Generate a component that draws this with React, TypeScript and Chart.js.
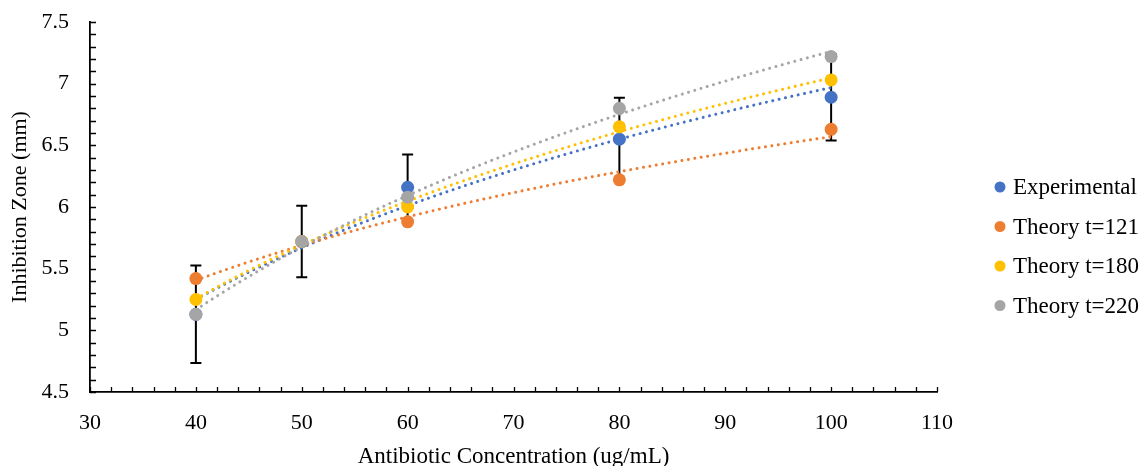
import React, { useEffect, useRef } from "react";
import { Chart, registerables } from "chart.js";

Chart.register(...registerables);

const concentrations = [40, 50, 60, 80, 100];
const experimental = [5.13, 5.72, 6.16, 6.55, 6.89];
const experimentalError = [0.395, 0.29, 0.265, 0.335, 0.35];
const theory121 = [5.42, 5.72, 5.88, 6.22, 6.63];
const theory180 = [5.25, 5.72, 6.0, 6.65, 7.03];
const theory220 = [5.13, 5.72, 6.08, 6.8, 7.22];

const seriesLabels = ["Experimental", "Theory t=121", "Theory t=180", "Theory t=220"];
const seriesColors = ["#4472C4", "#ED7D31", "#FFC000", "#A5A5A5"];

const xTickValues = [30, 40, 50, 60, 70, 80, 90, 100, 110];
const yTickValues = [4.5, 5, 5.5, 6, 6.5, 7, 7.5];

const xTitle = "Antibiotic Concentration (ug/mL)";
const yTitle = "Inhibition Zone (mm)";

const FONT = "'Liberation Serif', 'Times New Roman', serif";

// Excel-style logarithmic trendline (least squares on ln x)
function logTrend(xs: number[], ys: number[]) {
  const lx = xs.map((x) => Math.log(x));
  const n = xs.length;
  const mx = lx.reduce((a, b) => a + b, 0) / n;
  const my = ys.reduce((a, b) => a + b, 0) / n;
  let sxy = 0;
  let sxx = 0;
  for (let i = 0; i < n; i++) {
    sxy += (lx[i] - mx) * (ys[i] - my);
    sxx += (lx[i] - mx) * (lx[i] - mx);
  }
  const a = sxy / sxx;
  const b = my - a * mx;
  const pts: { x: number; y: number }[] = [];
  const lo = Math.min(...xs);
  const hi = Math.max(...xs);
  for (let x = lo; x <= hi + 1e-9; x += 0.5) pts.push({ x, y: a * Math.log(x) + b });
  return pts;
}

const allSeries = [experimental, theory121, theory180, theory220];

const errorBarPlugin = {
  id: "errorBars",
  beforeDatasetsDraw(chart: any) {
    const { ctx, scales } = chart;
    const xs = scales.x;
    const ys = scales.y;
    ctx.save();
    ctx.strokeStyle = "#000";
    ctx.lineWidth = 2;
    for (let i = 0; i < concentrations.length; i++) {
      const px = xs.getPixelForValue(concentrations[i]);
      const top = ys.getPixelForValue(experimental[i] + experimentalError[i]);
      const bot = ys.getPixelForValue(experimental[i] - experimentalError[i]);
      ctx.beginPath();
      ctx.moveTo(px, top);
      ctx.lineTo(px, bot);
      ctx.moveTo(px - 5.5, top);
      ctx.lineTo(px + 5.5, top);
      ctx.moveTo(px - 5.5, bot);
      ctx.lineTo(px + 5.5, bot);
      ctx.stroke();
    }
    ctx.restore();
  },
};

const tickMarksPlugin = {
  id: "tickMarks",
  afterDraw(chart: any) {
    const { ctx, scales, chartArea } = chart;
    const xs = scales.x;
    const ys = scales.y;
    ctx.save();
    ctx.strokeStyle = "#000";
    ctx.lineWidth = 1.3;
    ctx.beginPath();
    for (let v = 30; v <= 110 + 1e-9; v += 2) {
      const px = Math.round(xs.getPixelForValue(v)) + 0.5;
      ctx.moveTo(px, chartArea.bottom);
      ctx.lineTo(px, chartArea.bottom - 5);
    }
    for (let k = 0; k <= 30; k++) {
      const v = 4.5 + k * 0.1;
      const py = Math.round(ys.getPixelForValue(v)) + 0.5;
      ctx.moveTo(chartArea.left, py);
      ctx.lineTo(chartArea.left + 6, py);
    }
    ctx.stroke();
    ctx.restore();
  },
};

const legendPlugin = {
  id: "customLegend",
  afterDraw(chart: any) {
    const { ctx } = chart;
    ctx.save();
    ctx.font = `23px ${FONT}`;
    ctx.textBaseline = "alphabetic";
    ctx.textAlign = "left";
    for (let i = 0; i < seriesLabels.length; i++) {
      const cy = 187 + i * 39.5;
      ctx.fillStyle = seriesColors[i];
      ctx.beginPath();
      ctx.arc(1000, cy, 5.5, 0, Math.PI * 2);
      ctx.fill();
      ctx.fillStyle = "#000";
      ctx.fillText(seriesLabels[i], 1013, cy + 7);
    }
    ctx.restore();
  },
};

export default function App() {
  const ref = useRef<HTMLCanvasElement | null>(null);

  useEffect(() => {
    if (!ref.current) return;
    const datasets: any[] = [];
    allSeries.forEach((ys, i) => {
      datasets.push({
        type: "line",
        label: seriesLabels[i] + " trend",
        data: logTrend(concentrations, ys),
        borderColor: seriesColors[i],
        borderWidth: 3,
        borderDash: [0.01, 6.5],
        borderCapStyle: "round",
        pointRadius: 0,
        fill: false,
        tension: 0,
        order: 20 - i,
      });
    });
    allSeries.forEach((ys, i) => {
      datasets.push({
        type: "scatter",
        label: seriesLabels[i],
        data: concentrations.map((x, j) => ({ x, y: ys[j] })),
        backgroundColor: seriesColors[i],
        borderColor: seriesColors[i],
        pointRadius: 6.5,
        pointBorderWidth: 0,
        showLine: false,
        order: 4 - i,
      });
    });

    const chart = new Chart(ref.current, {
      type: "scatter",
      data: { datasets },
      plugins: [errorBarPlugin, tickMarksPlugin, legendPlugin],
      options: {
        responsive: false,
        animation: false,
        layout: { padding: { top: 22, right: 207, left: 0, bottom: 0 } },
        plugins: { legend: { display: false }, tooltip: { enabled: false } },
        scales: {
          x: {
            type: "linear",
            min: 30,
            max: 110,
            afterBuildTicks: (s: any) => {
              s.ticks = xTickValues.map((v) => ({ value: v }));
            },
            afterFit: (s: any) => {
              s.height = 74;
              s.paddingLeft = 0;
              s.paddingRight = 0;
            },
            ticks: {
              color: "#000",
              padding: 18,
              font: { family: FONT, size: 22 },
              callback: (v: any) => String(v),
            },
            grid: { display: false, drawTicks: false },
            border: { display: true, color: "#000", width: 1.8 },
            title: {
              display: true,
              text: xTitle,
              color: "#000",
              font: { family: FONT, size: 23, lineHeight: 0.8 },
              padding: { top: 0, bottom: 0 },
            },
          },
          y: {
            type: "linear",
            min: 4.5,
            max: 7.5,
            afterBuildTicks: (s: any) => {
              s.ticks = yTickValues.map((v) => ({ value: v }));
            },
            afterFit: (s: any) => {
              s.width = 90;
              s.paddingTop = 0;
              s.paddingBottom = 0;
            },
            ticks: {
              color: "#000",
              padding: 21,
              font: { family: FONT, size: 22 },
              callback: (v: any) => String(v),
            },
            grid: { display: false, drawTicks: false },
            border: { display: true, color: "#000", width: 1.8 },
            title: {
              display: true,
              text: yTitle,
              color: "#000",
              font: { family: FONT, size: 22, lineHeight: 1 },
              padding: { top: 9, bottom: 0 },
            },
          },
        },
      },
    });
    return () => chart.destroy();
  }, []);

  return (
    <div style={{ position: "absolute", left: 0, top: 0, width: 1144, height: 466, background: "#fff" }}>
      <canvas ref={ref} width={1144} height={466} style={{ display: "block" }} />
    </div>
  );
}
